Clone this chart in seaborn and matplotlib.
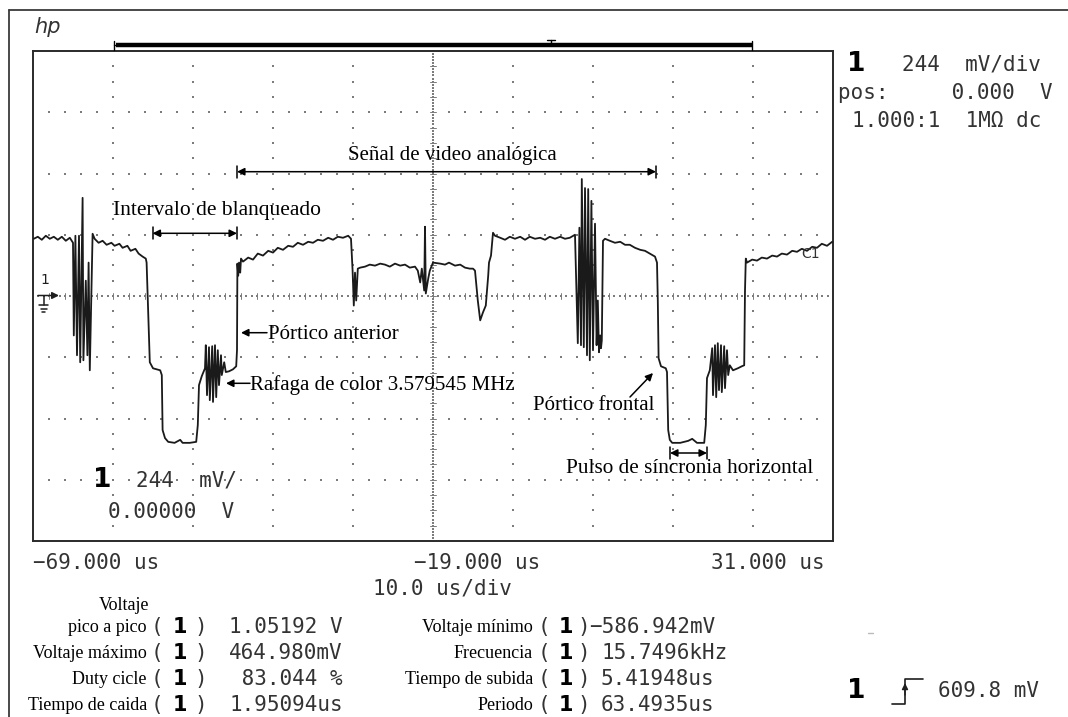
import numpy as np
import pandas as pd
import matplotlib
matplotlib.use("Agg")
import matplotlib.pyplot as plt
import seaborn as sns

# ---------------- data ----------------
# time in microseconds, voltage in millivolts (channel 1, 244 mV/div, 10 us/div)
seg_sync1_t = [-68.9, -68.4, -67.9, -67.4, -66.9, -66.4, -65.9, -65.4, -64.9, -64.4, -64.0,
               -63.9, -63.7, -63.5, -63.25, -63.1, -62.8, -62.7, -62.4, -62.2, -62.05, -61.9, -61.55]
seg_sync1_v = [228, 236, 224, 240, 228, 236, 224, 236, 220, 232, 212,
               -157, 240, -236, 240, -264, 391, -256, 61, -236, 133, -296, 248]

seg_line1_t = [-61.3, -60.8, -60.3, -59.8, -59.2, -58.8, -58.2, -57.8, -57.2, -56.8, -56.2, -55.8, -55.3, -54.9]
seg_line1_v = [228, 212, 220, 204, 212, 200, 208, 192, 200, 180, 188, 169, 157, 149]

seg_blank1_t = [-54.8, -54.6, -54.4, -54.0, -53.1, -52.9, -52.8, -52.5, -52.1, -51.3, -50.6, -50.3, -49.4,
                -48.6, -48.4, -48.25, -47.9, -47.5,
                -47.4, -47.25, -47.0, -46.9, -46.6, -46.5, -46.25, -46.1, -45.9, -45.75, -45.5, -45.4,
                -45.1, -44.9, -44.5, -44.0, -43.6, -43.5, -43.45, -43.35, -43.25, -43.1, -43.0]
seg_blank1_v = [133, -69, -264, -288, -296, -315, -534, -566, -581, -585, -573, -585, -585,
                -581, -514, -355, -319, -288,
                -196, -395, -204, -415, -200, -422, -196, -403, -216, -355, -236, -315,
                -264, -303, -300, -292, -280, -216, 129, 81, 133, 93, 149]

seg_video_t = [-42.75, -42.1, -41.5, -40.9, -40.25, -39.6, -39.0, -38.4, -37.75, -37.1, -36.5, -35.9,
               -35.25, -34.6, -34.0, -33.4, -32.75, -32.1, -31.5, -30.9, -30.25, -29.6, -29.25,
               -29.05, -28.9, -28.75, -28.6, -28.4, -28.1,
               -27.5, -26.9, -26.25, -25.6, -25.0, -24.4, -23.75, -23.1, -22.5, -21.9, -21.25, -20.9,
               -20.6, -20.4, -20.1, -20.0, -19.9, -19.6, -19.4, -19.0,
               -18.1, -17.5, -17.0, -16.25, -15.6, -15.0, -14.4, -14.0,
               -13.75, -13.4, -13.1, -12.75, -12.4, -12.1, -12.0, -11.75, -11.5,
               -11.25, -10.6, -10.0, -9.4, -8.75, -8.1, -7.5, -6.9, -6.25, -5.6, -5.0, -4.4, -3.75,
               -3.1, -2.5, -1.9, -1.25]
seg_video_v = [137, 153, 145, 169, 161, 180, 173, 192, 184, 200, 196, 212,
               204, 216, 212, 224, 220, 232, 224, 236, 232, 240, 228,
               101, -38, 93, -18, 109, 113,
               117, 125, 121, 129, 125, 117, 129, 121, 125, 113, 117, 101,
               54, 109, 22, 276, 10, 69, 101, 133,
               129, 125, 133, 121, 125, 113, 109, 109,
               101, -18, -97, -65, -38, 81, 133, 161, 252,
               240, 232, 224, 236, 228, 236, 224, 236, 228, 232, 224, 236, 228,
               236, 228, 232, 244]

seg_sync2_t = [-0.9, -0.7, -0.5, -0.4, -0.15, 0.0, 0.25, 0.4, 0.6, 0.8, 1.0, 1.25, 1.45, 1.6,
               1.75, 1.9, 2.0, 2.1, 2.25, 2.5,
               3.1, 3.75, 4.4, 5.0, 5.6, 6.25, 6.9, 7.5, 8.1, 8.75, 9.0]
seg_sync2_v = [-188, 272, -196, 466, -204, 430, -236, 426, -256, 379, -216, 288, -196, -18,
               -224, -157, -208, -177, 220, 228,
               220, 212, 216, 204, 204, 192, 184, 180, 169, 157, 133]

seg_blank2_t = [9.1, 9.2, 9.5, 10.1, 10.25, 10.4, 10.6, 10.9, 11.9, 12.9, 13.4, 14.0, 14.9, 15.1,
                15.25, 15.6,
                15.9, 16.0, 16.25, 16.4, 16.6, 16.75, 17.0, 17.1, 17.4, 17.5, 17.75, 17.9, 18.1,
                18.5, 19.1, 19.6, 19.9, 20.0, 20.1, 20.25,
                20.9, 21.5, 22.1, 22.75, 23.4, 24.0, 24.6, 25.25, 25.9, 26.5, 27.1, 27.75, 28.4,
                29.0, 29.6, 30.25, 30.9]
seg_blank2_v = [-18, -248, -280, -288, -303, -534, -573, -585, -585, -577, -569, -585, -585, -514,
                -327, -296,
                -208, -395, -196, -403, -188, -375, -196, -383, -200, -367, -216, -315, -276,
                -296, -288, -280, -276, 22, 149, 133,
                145, 141, 153, 149, 161, 157, 169, 165, 180, 176, 188, 180, 196,
                192, 208, 200, 216]

# screen scale
t_left, t_right = -69.0, 31.0
us_per_div = 10.0
mv_per_div = 244.0

# texts
hp_logo = "hp"
scale_lines = ["244  mV/div", "pos:     0.000  V", "1.000:1  1MΩ dc"]
screen_scale = ["244  mV/", "0.00000  V"]
time_labels = ["−69.000 us", "−19.000 us", "31.000 us"]
timebase_label = "10.0 us/div"
meas_header = "Voltaje"
meas_left_labels = ["pico a pico", "Voltaje máximo", "Duty cicle", "Tiempo de caida"]
meas_left_values = ["1.05192 V", "464.980mV", " 83.044 %", "1.95094us"]
meas_right_labels = ["Voltaje mínimo", "Frecuencia", "Tiempo de subida", "Periodo"]
meas_right_values = ["−586.942mV", "15.7496kHz", "5.41948us", "63.4935us"]
trigger_level = "609.8 mV"
ann_video = "Señal de video analógica"
ann_blank = "Intervalo de blanqueado"
ann_back = "Pórtico anterior"
ann_burst = "Rafaga de color 3.579545 MHz"
ann_front = "Pórtico frontal"
ann_sync = "Pulso de síncronia horizontal"

# ---------------- figure ----------------
sns.set_style("white")
W, H = 1068, 717
fig = plt.figure(figsize=(W / 100, H / 100), dpi=100)
fig.patch.set_facecolor("white")

scr_l, scr_t, scr_r, scr_b = 33, 51, 833, 541
ax = fig.add_axes([scr_l / W, 1 - scr_b / H, (scr_r - scr_l) / W, (scr_b - scr_t) / H])
ax.set_xlim(t_left, t_right)
ax.set_ylim(-4 * mv_per_div, 4 * mv_per_div)
ax.set_xticks([])
ax.set_yticks([])
for s in ax.spines.values():
    s.set_linewidth(1.4)
    s.set_color("#2a2a2a")

dotc = "#7c7c7c"
t_center = t_left + 5 * us_per_div
# graticule dots
rows = [k * mv_per_div for k in (-3, -2, -1, 1, 2, 3)]
xs = np.arange(t_left + 2, t_right - 1, us_per_div / 5)
for r in rows:
    ax.scatter(xs, np.full_like(xs, r), s=2.2, marker="s", color=dotc, linewidths=0, zorder=1)
cols = [t_left + k * us_per_div for k in (1, 2, 3, 4, 6, 7, 8, 9)]
ys = np.arange(-4 * mv_per_div + mv_per_div / 4, 4 * mv_per_div - 1, mv_per_div / 4)
for c in cols:
    ax.scatter(np.full_like(ys, c), ys, s=2.2, marker="s", color=dotc, linewidths=0, zorder=1)
# centre axes (denser, with minor ticks)
xs_c = np.arange(t_left + 0.6667, t_right, us_per_div / 15)
ax.scatter(xs_c, np.zeros_like(xs_c), s=1.6, marker="s", color=dotc, linewidths=0, zorder=1)
for xt in np.arange(t_left + 2, t_right - 1, 2.0):
    ax.plot([xt, xt], [-12, 12], color=dotc, lw=0.7, zorder=1)
ys_c = np.arange(-4 * mv_per_div + 12.2, 4 * mv_per_div, mv_per_div / 20)
ax.scatter(np.full_like(ys_c, t_center), ys_c, s=1.6, marker="s", color=dotc, linewidths=0, zorder=1)
for yt in np.arange(-4 * mv_per_div + mv_per_div / 4, 4 * mv_per_div - 1, mv_per_div / 4):
    ax.plot([t_center - 0.35, t_center + 0.35], [yt, yt], color=dotc, lw=0.7, zorder=1)

# trace
trace = pd.DataFrame({
    "t": seg_sync1_t + seg_line1_t + seg_blank1_t + seg_video_t + seg_sync2_t + seg_blank2_t,
    "mV": seg_sync1_v + seg_line1_v + seg_blank1_v + seg_video_v + seg_sync2_v + seg_blank2_v,
})
sns.lineplot(data=trace, x="t", y="mV", sort=False, estimator=None, ax=ax,
             color="#1a1a1a", lw=1.3, zorder=3)
ax.set_xlabel("")
ax.set_ylabel("")

# ---------------- overlay in pixel coordinates ----------------
ov = fig.add_axes([0, 0, 1, 1], facecolor="none")
ov.set_xlim(0, W)
ov.set_ylim(H, 0)
ov.axis("off")

ink = "#1e1e1e"
gray_txt = "#333333"
mono = dict(family="DejaVu Sans Mono", fontsize=15, color=gray_txt, va="center")
serif = dict(family="Liberation Serif", color="black")
bold1 = dict(family="DejaVu Sans", fontweight="bold", fontsize=19, color="black", va="center")

# outer frame (top and left edges)
ov.plot([8.6, W], [9.6, 9.6], color="#3a3a3a", lw=1.3)
ov.plot([8.6, 8.6], [9.6, H], color="#3a3a3a", lw=1.3)

# hp logo
ov.text(34, 27, hp_logo, family="DejaVu Sans", style="italic", fontsize=15, color="#333", va="center")

# record bar
ov.plot([116, 752], [45.3, 45.3], color="black", lw=3.2, solid_capstyle="butt")
ov.plot([113.5, 113.5], [40.5, 50], color="black", lw=1.0)
ov.plot([113.5, 118], [45.3, 45.3], color="black", lw=1.0)
ov.plot([752, 752], [40.5, 50], color="black", lw=1.0)
ov.plot([551, 551], [40, 45], color="black", lw=1.0)
ov.plot([547, 555], [40, 40], color="black", lw=1.0)

# top-right scale info
ov.text(847, 64, "1", **bold1)
ov.text(902, 64, scale_lines[0], **mono)
ov.text(838, 93, scale_lines[1], **mono)
ov.text(852, 121, scale_lines[2], **mono)

# on-screen scale text
ov.text(93, 480, "1", **bold1)
ov.text(136, 480, screen_scale[0], **mono)
ov.text(108, 512, screen_scale[1], **mono)

# ground marker
ov.text(44.5, 280, "1", family="DejaVu Sans", fontsize=10, color=ink, ha="center", va="center")
ov.annotate("", xy=(59, 295.5), xytext=(38, 295.5),
            arrowprops=dict(arrowstyle="-|>", mutation_scale=10, lw=1.1, color=ink, shrinkA=0, shrinkB=0))
ov.plot([43.5, 43.5], [295.5, 305], color=ink, lw=1.1)
ov.plot([39, 48], [305, 305], color=ink, lw=1.1)
ov.plot([40.5, 46.5], [308.5, 308.5], color=ink, lw=1.1)
ov.plot([42, 45], [312, 312], color=ink, lw=1.1)

# channel tag near trace end
ov.text(801, 254, "C1", family="DejaVu Sans", fontsize=10, color="#333", va="center")

# time labels
ov.text(33, 563, time_labels[0], ha="left", **mono)
ov.text(414, 563, time_labels[1], ha="left", **mono)
ov.text(825, 563, time_labels[2], ha="right", **mono)
ov.text(373, 589, timebase_label, ha="left", **mono)

# measurements
row_y = [627, 653, 679, 705]
ov.text(124, 606, meas_header, ha="center", va="center", fontsize=13, **serif)
for y, lab, val in zip(row_y, meas_left_labels, meas_left_values):
    ov.text(147, y, lab, ha="right", va="center", fontsize=13, **serif)
    ov.text(151, y, "(", ha="left", **mono)
    ov.text(173, y, "1", ha="left", family="DejaVu Sans", fontweight="bold", fontsize=15,
            color="black", va="center")
    ov.text(194, y, ")", ha="left", **mono)
    ov.text(229, y, val, ha="left", **mono)
for y, lab, val in zip(row_y, meas_right_labels, meas_right_values):
    ov.text(533, y, lab, ha="right", va="center", fontsize=13, **serif)
    ov.text(538, y, "(", ha="left", **mono)
    ov.text(559, y, "1", ha="left", family="DejaVu Sans", fontweight="bold", fontsize=15,
            color="black", va="center")
    ov.text(577, y, ")", ha="left", **mono)
    xv = 601 - (11.5 if val.startswith("−") else 0)
    ov.text(xv, y, val, ha="left", **mono)

# trigger info
ov.text(847, 691, "1", **bold1)
ov.plot([892, 905, 905, 923], [704, 704, 679, 679], color=ink, lw=1.2)
ov.annotate("", xy=(905, 683), xytext=(905, 695),
            arrowprops=dict(arrowstyle="-|>", mutation_scale=9, lw=1.0, color=ink, shrinkA=0, shrinkB=0))
ov.text(938, 691, trigger_level, ha="left", **mono)
ov.plot([868, 873], [633, 633], color="#bbbbbb", lw=1.0)

# annotations
def dbl_arrow(x0, x1, y):
    ov.annotate("", xy=(x1, y), xytext=(x0, y),
                arrowprops=dict(arrowstyle="<|-|>", mutation_scale=11, lw=1.1, color="black",
                                shrinkA=0, shrinkB=0))
    ov.plot([x0, x0], [y - 6, y + 6], color="black", lw=1.1)
    ov.plot([x1, x1], [y - 6, y + 6], color="black", lw=1.1)

ov.text(348, 160, ann_video, ha="left", va="baseline", fontsize=15, **serif)
dbl_arrow(237, 656, 171.7)
ov.text(113, 215, ann_blank, ha="left", va="baseline", fontsize=15.5, **serif)
dbl_arrow(152.5, 237, 233.3)
ov.text(268, 339, ann_back, ha="left", va="baseline", fontsize=15, **serif)
ov.annotate("", xy=(241, 332.7), xytext=(267, 332.7),
            arrowprops=dict(arrowstyle="-|>", mutation_scale=11, lw=1.1, color="black", shrinkA=0, shrinkB=0))
ov.text(250, 390, ann_burst, ha="left", va="baseline", fontsize=15, **serif)
ov.annotate("", xy=(226, 383.3), xytext=(250, 383.3),
            arrowprops=dict(arrowstyle="-|>", mutation_scale=11, lw=1.1, color="black", shrinkA=0, shrinkB=0))
ov.text(533, 410, ann_front, ha="left", va="baseline", fontsize=15, **serif)
ov.annotate("", xy=(653, 373), xytext=(630, 397),
            arrowprops=dict(arrowstyle="-|>", mutation_scale=11, lw=1.1, color="black", shrinkA=0, shrinkB=0))
ov.text(566, 473, ann_sync, ha="left", va="baseline", fontsize=15.3, **serif)
dbl_arrow(670, 707, 453)

fig.savefig("out.png", dpi=100, facecolor="white")
